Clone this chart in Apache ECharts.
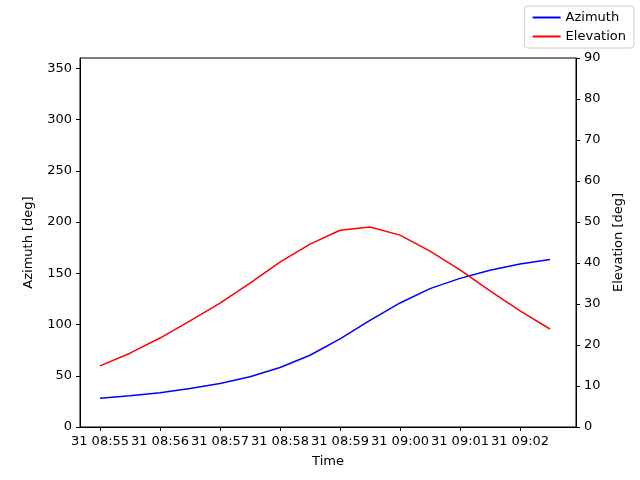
<!DOCTYPE html>
<html><head><meta charset="utf-8">
<script src="https://cdn.jsdelivr.net/npm/echarts@6/dist/echarts.min.js"></script>
<style>html,body{margin:0;padding:0;background:#fff}#c{width:640px;height:480px}</style>
</head><body><div id="c"></div>
<script>
// seconds after 31 08:55:00
const times = [0,30,60,90,120,150,180,210,240,270,300,330,360,390,420,450];
const azimuth = [28,30.5,33.5,37.5,42.5,49,58,70,86,104,121,135,145,153,159,163.5];
const elevation = [14.9,18,21.7,25.9,30.2,35.1,40.2,44.6,48,48.8,46.8,42.9,38.3,33.2,28.3,23.9];
const tickSecs = [0,60,120,180,240,300,360,420];
const tickLabels = ['31 08:55','31 08:56','31 08:57','31 08:58','31 08:59','31 09:00','31 09:01','31 09:02'];

const font = 'DejaVu Sans';
const ax = {color:'#000'};
const chart = echarts.init(document.getElementById('c'));
chart.setOption({
  animation:false,
  textStyle:{fontFamily:font},
  grid:{left:80,right:64,top:58,bottom:53,show:true,borderColor:'#000',borderWidth:1,backgroundColor:'transparent'},
  legend:{
    right:6, top:6, orient:'vertical', itemWidth:28, itemHeight:2, itemGap:6,
    backgroundColor:'#fff', borderColor:'#ccc', borderWidth:1, borderRadius:3, padding:[5,8],
    textStyle:{fontSize:13,color:'#000',fontFamily:font},
    data:[{name:'Azimuth',icon:'rect'},{name:'Elevation',icon:'rect'}]
  },
  xAxis:{
    type:'value', min:-20, max:476, name:'Time', nameLocation:'middle', nameGap:28,
    nameTextStyle:{fontSize:13,color:'#000'},
    axisLine:{onZero:false,lineStyle:ax}, splitLine:{show:false},
    axisTick:{customValues:tickSecs,lineStyle:ax,length:4},
    axisLabel:{customValues:tickSecs,color:'#000',fontSize:13,
      formatter:v=>tickLabels[tickSecs.indexOf(v)]}
  },
  yAxis:[
    {type:'value',min:0,max:360,interval:50,name:'Azimuth [deg]',nameLocation:'middle',nameGap:45,
     nameTextStyle:{fontSize:13,color:'#000'},
     axisLine:{show:true,onZero:false,lineStyle:ax},axisTick:{show:true,lineStyle:ax,length:4},
     axisLabel:{color:'#000',fontSize:13,showMaxLabel:false},splitLine:{show:false}},
    {type:'value',min:0,max:90,interval:10,name:'Elevation [deg]',nameLocation:'middle',nameGap:36,
     nameTextStyle:{fontSize:13,color:'#000'},
     axisLine:{show:true,onZero:false,lineStyle:ax},axisTick:{show:true,lineStyle:ax,length:4},
     axisLabel:{color:'#000',fontSize:13},splitLine:{show:false}}
  ],
  series:[
    {name:'Azimuth',type:'line',yAxisIndex:0,showSymbol:false,color:'#0000ff',lineStyle:{width:1.5},
     data:times.map((t,i)=>[t,azimuth[i]])},
    {name:'Elevation',type:'line',yAxisIndex:1,showSymbol:false,color:'#ff0000',lineStyle:{width:1.5},
     data:times.map((t,i)=>[t,elevation[i]])}
  ]
});
</script></body></html>
